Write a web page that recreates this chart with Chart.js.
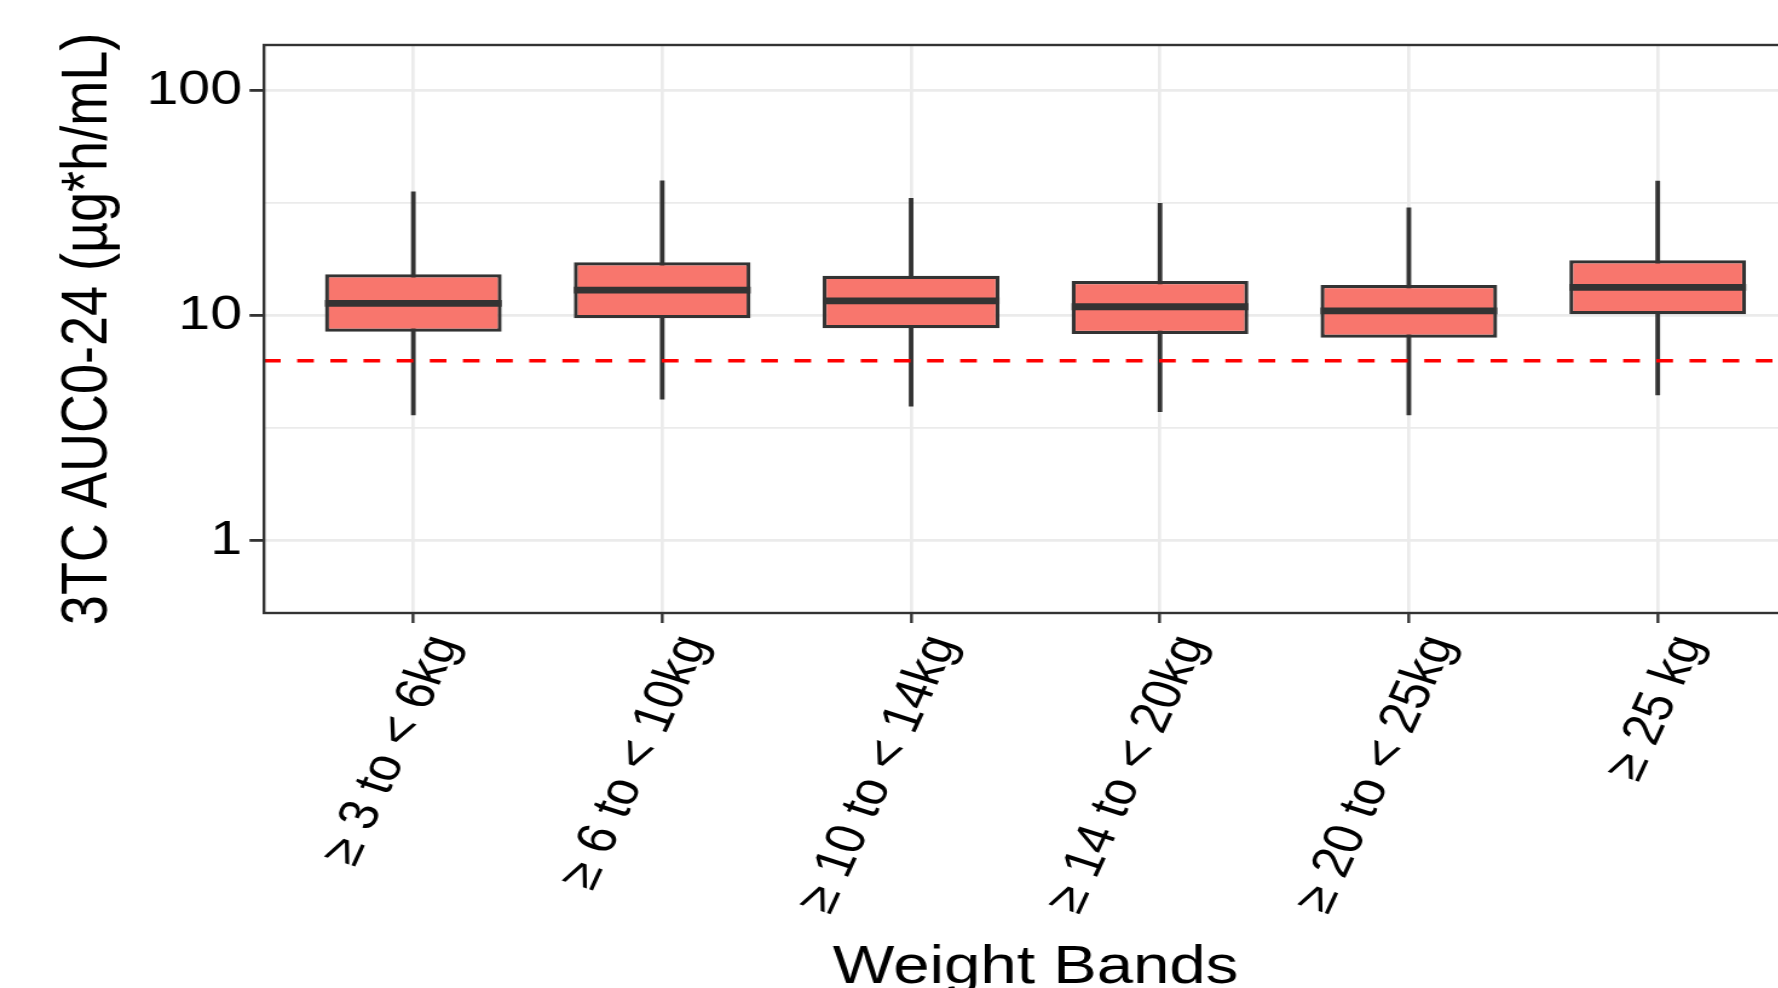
<!DOCTYPE html>
<html>
<head>
<meta charset="utf-8">
<title>3TC AUC0-24 by weight band</title>
<script src="https://cdn.jsdelivr.net/npm/chart.js@4/dist/chart.umd.min.js"></script>
<style>
  html, body { margin: 0; padding: 0; background: #fff; overflow: hidden; }
  #wrap { width: 1778px; height: 988px; overflow: hidden; }
</style>
</head>
<body>
<div id="wrap">
  <!-- drawn at 1520 wide, shown stretched like the source picture -->
  <canvas id="chart" width="1520" height="988" style="display:block;width:1839px;height:988px"></canvas>
</div>
<script>
// Data
const categories = ["≥ 3 to < 6kg", "≥ 6 to < 10kg", "≥ 10 to < 14kg", "≥ 14 to < 20kg", "≥ 20 to < 25kg", "≥ 25 kg"]
const whiskerLow = [3.62, 4.25, 3.96, 3.74, 3.62, 4.44]
const q1 = [8.49, 9.74, 8.79, 8.29, 7.98, 10.14]
const median = [11.35, 13.0, 11.63, 10.96, 10.5, 13.38]
const q3 = [15.3, 17.3, 15.07, 14.27, 13.7, 17.64]
const whiskerHigh = [35.6, 39.8, 33.3, 31.6, 30.2, 39.7]
const thresholdValue = 6.3

const yMajorTicks = [1, 10, 100]
const yTickLabels = ["1", "10", "100"]
const yMinorTicks = [3.162, 31.62]
const yMin = 0.476
const yMax = 160

const xs = categories.map((c, i) => i + 1)
const xMin = 0.4
const xMax = categories.length + 0.6

const fontFamily = "'Liberation Sans', Arial, Helvetica, sans-serif"
const boxWidth = 0.71

// ggplot style frame around the panel
const panelBorder = {
  id: "panelBorder",
  afterDatasetsDraw(chart) {
    const { ctx, chartArea: a } = chart
    ctx.save()
    ctx.strokeStyle = "#333333"
    ctx.lineWidth = 2.4
    ctx.strokeRect(a.left, a.top, a.right - a.left, a.bottom - a.top)
    ctx.restore()
  },
}

const isMinor = (v) => yMinorTicks.includes(v)

new Chart(document.getElementById("chart"), {
  type: "bar",
  data: {
    datasets: [
      {
        type: "line",
        label: "threshold",
        data: [{ x: xMin, y: thresholdValue }, { x: xMax, y: thresholdValue }],
        borderColor: "#ff0000",
        borderWidth: 3.4,
        borderDash: [13.8, 13.6],
        pointRadius: 0,
        order: 0,
      },
      {
        type: "line",
        label: "median",
        data: xs.map((x, i) => ({ x, y: median[i] })),
        showLine: false,
        pointStyle: "line",
        pointRadius: (ctx) => {
          const s = ctx.chart.scales.x
          return s.getPixelForValue(1 + boxWidth / 2) - s.getPixelForValue(1)
        },
        pointBorderWidth: 6.8,
        pointBorderColor: "#333333",
        pointBackgroundColor: "#333333",
        order: 1,
      },
      {
        type: "bar",
        label: "IQR",
        data: xs.map((x, i) => ({ x, y: [q1[i], q3[i]] })),
        backgroundColor: "#F8766D",
        borderColor: "#333333",
        borderWidth: 3.3,
        borderSkipped: false,
        grouped: false,
        categoryPercentage: boxWidth,
        barPercentage: 1,
        order: 2,
      },
      {
        type: "bar",
        label: "whisker",
        data: xs.map((x, i) => ({ x, y: [whiskerLow[i], whiskerHigh[i]] })),
        backgroundColor: "#333333",
        borderWidth: 0,
        grouped: false,
        barThickness: 3.2,
        order: 3,
      },
    ],
  },
  options: {
    responsive: false,
    devicePixelRatio: 1,
    animation: false,
    events: [],
    layout: { padding: { top: 45, right: 26.4, left: 0, bottom: 0 } },
    plugins: {
      legend: { display: false },
      tooltip: { enabled: false },
    },
    scales: {
      x: {
        type: "linear",
        min: xMin,
        max: xMax,
        offset: false,
        afterBuildTicks: (scale) => {
          scale.ticks = xs.map((v) => ({ value: v }))
        },
        afterFit: (scale) => {
          scale.height = 375
        },
        ticks: {
          callback: (v) => categories[v - 1],
          autoSkip: false,
          minRotation: 69,
          maxRotation: 69,
          padding: 5,
          labelOffset: 26,
          color: "#000000",
          font: { family: fontFamily, size: 46 },
        },
        grid: {
          offset: false,
          color: "#ebebeb",
          lineWidth: 2.7,
          tickColor: "#333333",
          tickWidth: 2.4,
          tickLength: 10,
        },
        border: { display: false },
        title: {
          display: true,
          text: "Weight Bands",
          color: "#000000",
          font: { family: fontFamily, size: 54 },
          padding: { top: 0, bottom: -13 },
        },
      },
      y: {
        type: "logarithmic",
        min: yMin,
        max: yMax,
        afterBuildTicks: (scale) => {
          scale.ticks = [...yMajorTicks, ...yMinorTicks].sort((a, b) => a - b).map((v) => ({ value: v }))
        },
        afterFit: (scale) => {
          scale.width = 218.2
        },
        ticks: {
          callback: (v) => {
            const i = yMajorTicks.indexOf(v)
            return i >= 0 ? yTickLabels[i] : ""
          },
          autoSkip: false,
          padding: 6,
          color: "#000000",
          font: { family: fontFamily, size: 47.5 },
        },
        grid: {
          color: "#ebebeb",
          lineWidth: (ctx) => (ctx.tick && isMinor(ctx.tick.value) ? 1.8 : 2.8),
          tickColor: (ctx) => (ctx.tick && isMinor(ctx.tick.value) ? "rgba(0,0,0,0)" : "#333333"),
          tickWidth: 2.8,
          tickLength: 12,
        },
        border: { display: false },
        title: {
          display: true,
          text: "3TC AUC0-24 (µg*h/mL)",
          color: "#000000",
          font: { family: fontFamily, size: 54 },
          padding: { top: 41, bottom: 0 },
        },
      },
    },
  },
  plugins: [panelBorder],
})
</script>
</body>
</html>
